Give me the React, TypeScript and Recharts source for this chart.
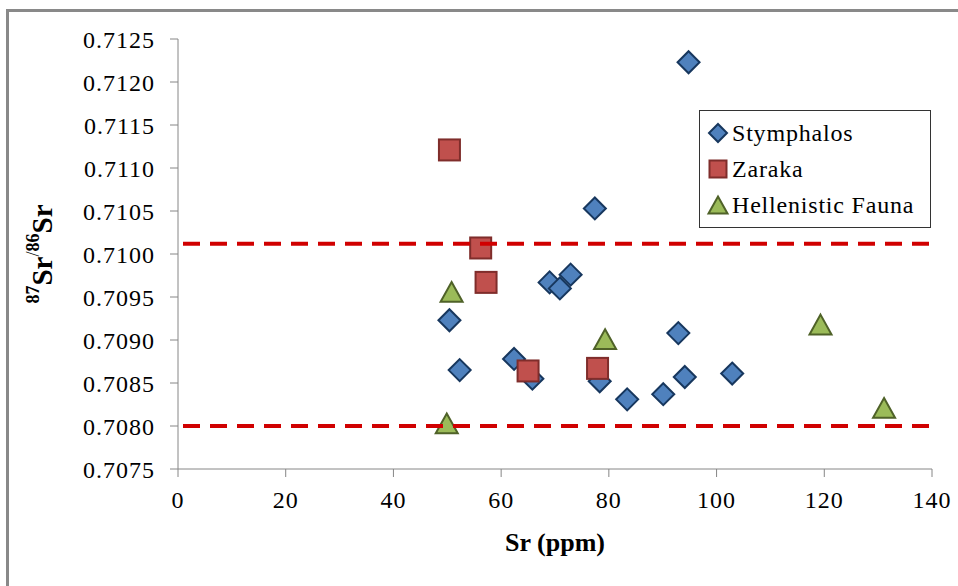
import { ScatterChart, Scatter, XAxis, YAxis, ReferenceLine, Legend } from 'recharts';

const stymphalosSr = [94.8, 77.4, 69.0, 70.9, 72.9, 50.4, 52.3, 62.4, 65.8, 78.3, 83.4, 90.1, 92.9, 94.1, 102.9];
const stymphalosRatio = [0.71223, 0.71053, 0.70967, 0.7096, 0.70976, 0.70923, 0.70865, 0.70878, 0.70855, 0.70852, 0.70831, 0.70837, 0.70908, 0.70857, 0.70861];

const zarakaSr = [50.4, 56.2, 57.2, 65.0, 77.9];
const zarakaRatio = [0.71121, 0.71007, 0.70967, 0.70864, 0.70867];

const faunaSr = [50.8, 49.9, 79.3, 119.3, 131.1];
const faunaRatio = [0.70956, 0.70803, 0.70901, 0.70918, 0.70821];

const seriesNames = ['Stymphalos', 'Zaraka', 'Hellenistic Fauna'];

const xTicks = [0, 20, 40, 60, 80, 100, 120, 140];
const yTicks = [0.7075, 0.708, 0.7085, 0.709, 0.7095, 0.71, 0.7105, 0.711, 0.7115, 0.712, 0.7125];

const upperLimit = 0.71012;
const lowerLimit = 0.708;

const toPoints = (xs: number[], ys: number[]) => xs.map((sr, i) => ({ sr, ratio: ys[i] }));

const stymphalos = toPoints(stymphalosSr, stymphalosRatio);
const zaraka = toPoints(zarakaSr, zarakaRatio);
const fauna = toPoints(faunaSr, faunaRatio);

const FONT = '"Liberation Serif", "Times New Roman", serif';
const AXIS = '#868686';

function Diamond({ cx, cy, r = 11 }: any) {
  return (
    <path
      d={`M${cx},${cy - r} L${cx + r},${cy} L${cx},${cy + r} L${cx - r},${cy} Z`}
      fill="#4F81BD"
      stroke="#17375E"
      strokeWidth={2}
    />
  );
}

function Square({ cx, cy, s = 21 }: any) {
  return (
    <rect x={cx - s / 2} y={cy - s / 2} width={s} height={s} fill="#C0504D" stroke="#7F2D2B" strokeWidth={2} />
  );
}

function Triangle({ cx, cy, w = 22 }: any) {
  const h = w * 0.9;
  return (
    <path
      d={`M${cx},${cy - h / 2} L${cx + w / 2},${cy + h / 2} L${cx - w / 2},${cy + h / 2} Z`}
      fill="#9BBB59"
      stroke="#4F6228"
      strokeWidth={2}
    />
  );
}

const markers: Record<string, (cx: number, cy: number) => any> = {
  Stymphalos: (cx, cy) => <Diamond cx={cx} cy={cy} r={9} />,
  Zaraka: (cx, cy) => <Square cx={cx} cy={cy} s={17} />,
  'Hellenistic Fauna': (cx, cy) => <Triangle cx={cx} cy={cy} w={19} />,
};

function LegendBox({ payload }: any) {
  const items = [...(payload || [])].sort(
    (a: any, b: any) => seriesNames.indexOf(a.value) - seriesNames.indexOf(b.value)
  );
  return (
    <div
      style={{
        border: '1.5px solid #333',
        background: '#fff',
        padding: '4px 10px 4px 6px',
        fontFamily: FONT,
        fontSize: 24,
        letterSpacing: 0.8,
        color: '#000',
      }}
    >
      {items.map((p: any) => (
        <div key={p.value} style={{ display: 'flex', alignItems: 'center', height: 36 }}>
          <svg width={24} height={24} style={{ marginRight: 2 }}>
            {markers[p.value]?.(12, 12)}
          </svg>
          <span>{p.value}</span>
        </div>
      ))}
    </div>
  );
}

function RatioLabel({ viewBox }: any) {
  const x = viewBox.x + 42;
  const y = viewBox.y + viewBox.height / 2;
  return (
    <text
      x={x}
      y={y}
      transform={`rotate(-90, ${x}, ${y})`}
      textAnchor="middle"
      dominantBaseline="central"
      fontFamily={FONT}
      fontWeight="bold"
      fontSize={29}
      fill="#000"
    >
      <tspan fontSize={18} dy={-9}>87</tspan>
      <tspan dy={9}>Sr</tspan>
      <tspan fontSize={18} fontWeight="normal" dy={-9}>/</tspan>
      <tspan fontSize={18} dy={0}>86</tspan>
      <tspan dy={9}>Sr</tspan>
    </text>
  );
}

export default function App() {
  return (
    <div style={{ position: 'absolute', left: 0, top: 0, width: 958, height: 586, overflow: 'hidden', background: '#fff' }}>
      <div
        style={{
          position: 'absolute',
          left: 6,
          top: 9,
          width: 1000,
          height: 1000,
          border: '3px solid #898989',
        }}
      />
      <div style={{ position: 'absolute', left: 0, top: 0 }}>
        <ScatterChart width={958} height={586} margin={{ top: 39, right: 26, bottom: 47, left: 0 }}>
          <XAxis
            type="number"
            dataKey="sr"
            domain={[0, 140]}
            ticks={xTicks}
            interval={0}
            stroke={AXIS}
            tickSize={8}
            tickMargin={14}
            height={70}
            tick={{ fill: '#000', fontSize: 24, fontFamily: FONT, letterSpacing: 1 }}
            label={{ value: 'Sr (ppm)', position: 'bottom', offset: -6, fill: '#000', fontSize: 26, fontWeight: 'bold', fontFamily: FONT }}
          />
          <YAxis
            type="number"
            dataKey="ratio"
            domain={[0.7075, 0.7125]}
            ticks={yTicks}
            interval={0}
            allowDataOverflow
            width={178}
            stroke={AXIS}
            tickSize={8}
            tickMargin={15}
            tickFormatter={(v: number) => v.toFixed(4)}
            tick={{ fill: '#000', fontSize: 24, fontFamily: FONT, letterSpacing: 1 }}
            label={<RatioLabel />}
          />
          <Legend
            layout="vertical"
            align="center"
            verticalAlign="middle"
            content={<LegendBox />}
            wrapperStyle={{ position: 'absolute', left: 699, top: 110, width: 232 }}
          />
          <Scatter name="Stymphalos" data={stymphalos} fill="#4F81BD" isAnimationActive={false} shape={(p: any) => <Diamond cx={p.cx} cy={p.cy} />} />
          <Scatter name="Zaraka" data={zaraka} fill="#C0504D" isAnimationActive={false} shape={(p: any) => <Square cx={p.cx} cy={p.cy} />} />
          <Scatter name="Hellenistic Fauna" data={fauna} fill="#9BBB59" isAnimationActive={false} shape={(p: any) => <Triangle cx={p.cx} cy={p.cy} />} />
          <ReferenceLine y={upperLimit} stroke="#D00000" strokeWidth={4} strokeDasharray="17 10" strokeDashoffset={-5} ifOverflow="visible" zIndex={2000} />
          <ReferenceLine y={lowerLimit} stroke="#D00000" strokeWidth={4} strokeDasharray="17 10" strokeDashoffset={-5} ifOverflow="visible" zIndex={2000} />
        </ScatterChart>
      </div>
    </div>
  );
}
